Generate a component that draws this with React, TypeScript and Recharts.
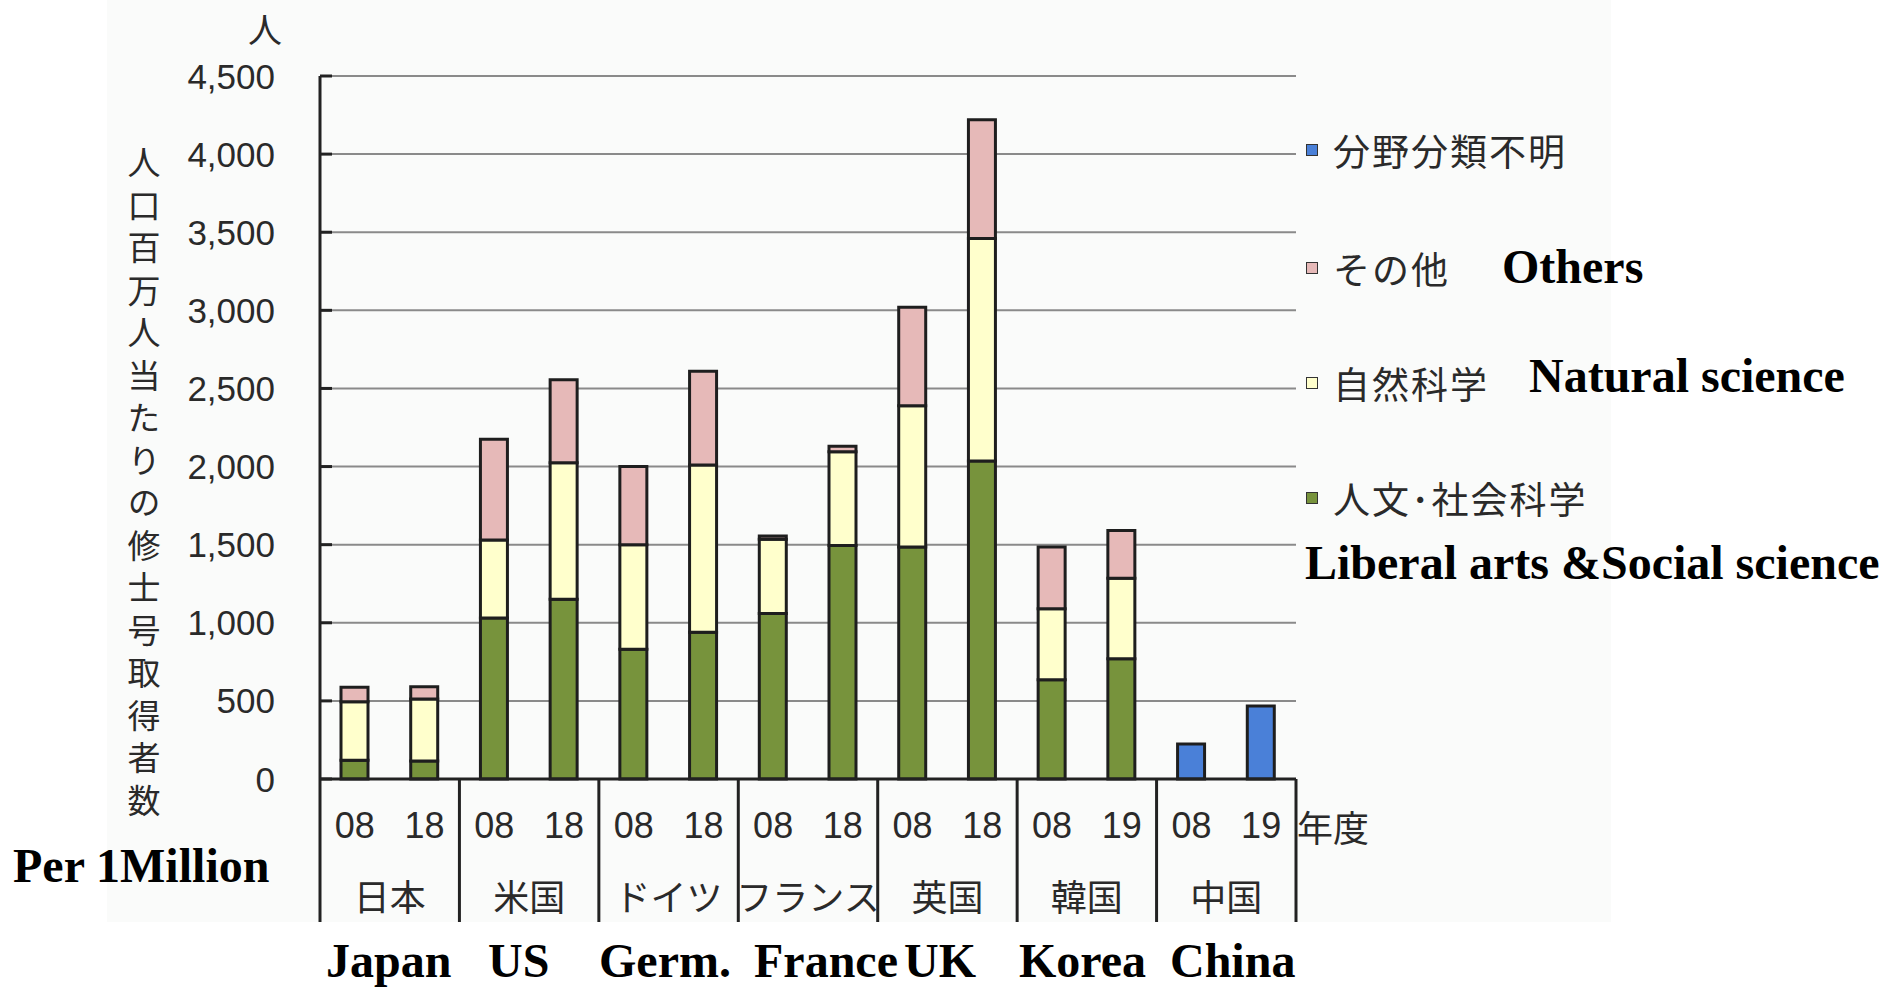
import React from 'react';
import { BarChart, Bar, XAxis, YAxis, CartesianGrid, Legend } from 'recharts';

// ---- data ----
const countries = ['日本', '米国', 'ドイツ', 'フランス', '英国', '韓国', '中国'];
const years = ['08', '18', '08', '18', '08', '18', '08', '18', '08', '18', '08', '19', '08', '19'];
const humanities: (number | null)[] = [120, 115, 1030, 1150, 830, 940, 1060, 1495, 1485, 2035, 635, 770, null, null];
const natural: (number | null)[] = [375, 397, 500, 875, 670, 1070, 475, 600, 905, 1425, 455, 515, null, null];
const others: (number | null)[] = [92, 79, 645, 530, 500, 600, 20, 35, 630, 760, 395, 305, null, null];
const unknown: (number | null)[] = [null, null, null, null, null, null, null, null, null, null, null, null, 224, 467];
const yTicks = [0, 500, 1000, 1500, 2000, 2500, 3000, 3500, 4000, 4500];

const seriesNames = ['人文･社会科学', '自然科学', 'その他', '分野分類不明'];
const legendOrder = ['分野分類不明', 'その他', '自然科学', '人文･社会科学'];
const englishLegend = ['Liberal arts &Social science', 'Natural science', 'Others'];
const englishCountries = ['Japan', 'US', 'Germ.', 'France', 'UK', 'Korea', 'China'];
const yTitle = '人口百万人当たりの修士号取得者数';

const data = years.map((y, i) => ({
  key: `${countries[Math.floor(i / 2)]}-${y}-${i}`,
  year: y,
  country: countries[Math.floor(i / 2)],
  humanities: humanities[i],
  natural: natural[i],
  others: others[i],
  unknown: unknown[i],
}));

const COLORS = {
  humanities: '#77933C',
  natural: '#FFFFCC',
  others: '#E6B9B8',
  unknown: '#4A80D8',
};
const STROKE = '#1e1e1e';
const JP = '"Noto Sans CJK JP", "Noto Sans", sans-serif';
const NUM = '"Liberation Sans", Arial, sans-serif';
const SERIF = '"Liberation Serif", "Times New Roman", serif';

const fmt = (v: number) => v.toLocaleString('en-US');

const YTick = (props: any) => {
  const { x, y, payload } = props;
  return (
    <g>
      <text x={x} y={y} textAnchor="end" dominantBaseline="central" fontSize={35} fontFamily={NUM} fill="#2a2a2a">
        {fmt(payload.value)}
      </text>
      <line x1={x + 45} x2={x + 57} y1={y} y2={y} stroke="#222" strokeWidth={3} />
    </g>
  );
};

const XTick = (props: any) => {
  const { x, y, payload, index } = props;
  const i = payload && payload.index != null ? payload.index : index;
  const half = payload && payload.offset ? payload.offset : 0;
  return (
    <g>
      <text x={x} y={y + 46} textAnchor="middle" dominantBaseline="central" fontSize={36} fontFamily={NUM} fill="#2a2a2a">
        {years[i]}
      </text>
      {i % 2 === 0 && (
        <line x1={x - half} x2={x - half} y1={y} y2={y + 143} stroke="#222" strokeWidth={3} />
      )}
      {i % 2 === 1 && (
        <text x={x - half} y={y + 116} textAnchor="middle" dominantBaseline="central" fontSize={36} fontFamily={JP} fill="#2a2a2a">
          {countries[(i - 1) / 2]}
        </text>
      )}
      {i === years.length - 1 && (
        <line x1={x + half} x2={x + half} y1={y} y2={y + 143} stroke="#222" strokeWidth={3} />
      )}
    </g>
  );
};

const rowTops = [150, 268, 383, 498];

const LegendContent = (props: any) => {
  const payload = (props.payload || [])
    .slice()
    .sort((a: any, b: any) => legendOrder.indexOf(a.value) - legendOrder.indexOf(b.value));
  return (
    <div style={{ position: 'relative', width: 560, height: 560 }}>
      {payload.map((p: any, k: number) => (
        <div
          key={p.value}
          style={{
            position: 'absolute',
            left: 6,
            top: rowTops[k] - 22,
            height: 44,
            display: 'flex',
            alignItems: 'center',
            whiteSpace: 'nowrap',
          }}
        >
          <span
            style={{
              display: 'inline-block',
              width: 10,
              height: 10,
              border: '1.5px solid #333',
              background: p.color,
              marginRight: 15,
            }}
          />
          <span style={{ fontFamily: JP, fontSize: 37, color: '#2a2a2a', letterSpacing: 2, lineHeight: '44px' }}>
            {p.value}
          </span>
        </div>
      ))}
    </div>
  );
};

export default function App() {
  return (
    <div style={{ position: 'absolute', left: 0, top: 0, width: 1891, height: 988, background: '#ffffff', overflow: 'hidden' }}>
      <div style={{ position: 'absolute', left: 107, top: 0, width: 1504, height: 922, background: '#fafbfa' }} />
      <div style={{ position: 'absolute', left: 0, top: 0 }}>
        <BarChart
          width={1891}
          height={988}
          data={data}
          margin={{ top: 76, right: 595, left: 260, bottom: 59 }}
          barSize={27}
        >
          <CartesianGrid vertical={false} stroke="#8a8a8a" strokeWidth={2} />
          <XAxis
            dataKey="key"
            type="category"
            interval={0}
            height={150}
            tickSize={0}
            tickMargin={0}
            tickLine={false}
            axisLine={{ stroke: '#222', strokeWidth: 3 }}
            tick={<XTick />}
          />
          <YAxis
            type="number"
            domain={[0, 4500]}
            ticks={yTicks}
            width={60}
            tickSize={0}
            tickMargin={45}
            tickLine={false}
            axisLine={{ stroke: '#222', strokeWidth: 3 }}
            tick={<YTick />}
            interval={0}
          />
          <Legend
            layout="vertical"
            align="center"
            verticalAlign="middle"
            content={<LegendContent />}
            wrapperStyle={{ left: 1300, top: 0, width: 560, height: 560 }}
          />
          <Bar dataKey="humanities" name={seriesNames[0]} stackId="a" fill={COLORS.humanities} stroke={STROKE} strokeWidth={3} isAnimationActive={false} />
          <Bar dataKey="natural" name={seriesNames[1]} stackId="a" fill={COLORS.natural} stroke={STROKE} strokeWidth={3} isAnimationActive={false} />
          <Bar dataKey="others" name={seriesNames[2]} stackId="a" fill={COLORS.others} stroke={STROKE} strokeWidth={3} isAnimationActive={false} />
          <Bar dataKey="unknown" name={seriesNames[3]} stackId="a" fill={COLORS.unknown} stroke={STROKE} strokeWidth={3} isAnimationActive={false} />
        </BarChart>
      </div>
      <svg
        width={1891}
        height={988}
        style={{ position: 'absolute', left: 0, top: 0, pointerEvents: 'none' }}
      >
        <text x={265} y={28} textAnchor="middle" dominantBaseline="central" fontSize={34} fontFamily={JP} fill="#2a2a2a">人</text>
        <text
          x={144}
          y={146}
          fontSize={33}
          fontFamily={JP}
          fill="#2a2a2a"
          letterSpacing={9.5}
          style={{ writingMode: 'vertical-rl', textOrientation: 'upright' } as any}
        >
          {yTitle}
        </text>
        <text x={1297} y={826} textAnchor="start" dominantBaseline="central" fontSize={36} fontFamily={JP} fill="#2a2a2a">年度</text>
        <g fontFamily={SERIF} fontWeight="bold" fontSize={48} fill="#000">
          <text x={1502} y={283}>{englishLegend[2]}</text>
          <text x={1529} y={392}>{englishLegend[1]}</text>
          <text x={1305} y={579}>{englishLegend[0]}</text>
          <text x={13} y={882}>Per 1Million</text>
          {englishCountries.map((c, i) => (
            <text key={c} x={[326, 488, 599, 754, 904, 1019, 1170][i]} y={977}>{c}</text>
          ))}
        </g>
      </svg>
    </div>
  );
}
